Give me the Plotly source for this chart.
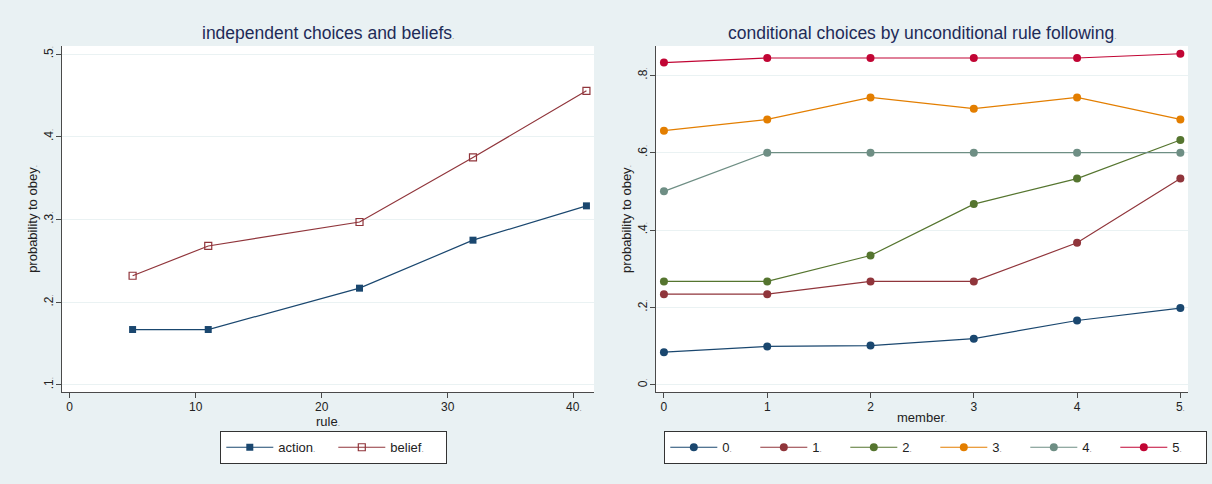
import plotly.graph_objects as go

# ---- data ----
rule = [5, 11, 23, 32, 41]
action = [0.167, 0.167, 0.217, 0.275, 0.3165]
belief = [0.232, 0.268, 0.297, 0.375, 0.4555]

member = [0, 1, 2, 3, 4, 5]
series_names = ["0", "1", "2", "3", "4", "5"]
s0 = [0.084, 0.099, 0.101, 0.119, 0.166, 0.198]
s1 = [0.234, 0.234, 0.267, 0.267, 0.367, 0.533]
s2 = [0.267, 0.267, 0.334, 0.467, 0.533, 0.633]
s3 = [0.657, 0.686, 0.743, 0.714, 0.743, 0.686]
s4 = [0.500, 0.600, 0.600, 0.600, 0.600, 0.600]
s5 = [0.833, 0.845, 0.845, 0.845, 0.845, 0.856]
right_series = [s0, s1, s2, s3, s4, s5]

left_xticks = [0, 10, 20, 30, 40]
left_yticks = [0.1, 0.2, 0.3, 0.4, 0.5]
right_xticks = [0, 1, 2, 3, 4, 5]
right_yticks = [0, 0.2, 0.4, 0.6, 0.8]

# ---- style ----
W, H = 1212, 484
BG = "#e9f1f3"
GRID = "#eaf2f3"
AXC = "#4a4a4a"
TITLEC = "#1e2b58"
TXT = "#222222"
FONT = "Liberation Sans, Arial, sans-serif"
colors = ["#1a476f", "#90353b", "#55752f", "#e37e00", "#6e8e84", "#c10534"]

DOT = "<span style='font-size:8px;color:#777777'>.</span>"


def lbl(s):
    return s + DOT


def fmt(v):
    if v == 0:
        return "0"
    s = ("%g" % v)
    return s[1:] if s.startswith("0") else s


def px_x(p):
    return p / W


def px_y(p):
    return 1 - p / H


fig = go.Figure()

fig.add_trace(go.Scatter(
    x=rule, y=action, name=lbl("action"), mode="lines+markers",
    line=dict(color=colors[0], width=1.2),
    marker=dict(symbol="square", size=7, color=colors[0]),
    xaxis="x", yaxis="y", legend="legend"))
fig.add_trace(go.Scatter(
    x=rule, y=belief, name=lbl("belief"), mode="lines+markers",
    line=dict(color=colors[1], width=1.2),
    marker=dict(symbol="square-open", size=7, color=colors[1], line=dict(width=1.2)),
    xaxis="x", yaxis="y", legend="legend"))

for name, ys, c in zip(series_names, right_series, colors):
    fig.add_trace(go.Scatter(
        x=member, y=ys, name=lbl(name), mode="lines+markers",
        line=dict(color=c, width=1.2),
        marker=dict(symbol="circle", size=8, color=c),
        xaxis="x2", yaxis="y2", legend="legend2"))

axis_common = dict(
    showline=True, linecolor=AXC, linewidth=1.3, ticks="outside", ticklen=5,
    tickcolor=AXC, tickwidth=1, zeroline=False, mirror=False, automargin=False,
    tickfont=dict(family=FONT, size=12, color=TXT),
    title_font=dict(family=FONT, size=13, color=TXT),
    ticklabelstandoff=-2,
)

ytop, ybot = 46, 392
fig.update_layout(
    width=W, height=H,
    margin=dict(l=0, r=0, t=0, b=0, autoexpand=False),
    paper_bgcolor=BG, plot_bgcolor="white",
    font=dict(family=FONT, size=12, color=TXT),
    xaxis=dict(domain=[px_x(62), px_x(594)], range=[-0.6, 41.6], anchor="y",
               tickvals=left_xticks,
               ticktext=[str(t) if t != 40 else lbl("40") for t in left_xticks],
               showgrid=False, title=dict(text=lbl("rule"), standoff=0), **axis_common),
    yaxis=dict(domain=[px_y(ybot), px_y(ytop)], range=[0.0915, 0.5097], anchor="x",
               tickvals=left_yticks, ticktext=[lbl(fmt(t)) for t in left_yticks],
               tickangle=-90, showgrid=True, gridcolor=GRID, gridwidth=1,
               title=dict(text=lbl("probability to obey"), standoff=1), **axis_common),
    xaxis2=dict(domain=[px_x(656), px_x(1188)], range=[-0.077, 5.074], anchor="y2",
                tickvals=right_xticks,
                ticktext=[str(t) if t != 5 else lbl("5") for t in right_xticks],
                showgrid=False, title=dict(text=lbl("member"), standoff=0), **axis_common),
    yaxis2=dict(domain=[px_y(ybot), px_y(ytop)], range=[-0.019, 0.876], anchor="x2",
                tickvals=right_yticks, ticktext=[lbl(fmt(t)) for t in right_yticks],
                tickangle=-90, showgrid=True, gridcolor=GRID, gridwidth=1,
                title=dict(text=lbl("probability to obey"), standoff=1), **axis_common),
    legend=dict(orientation="h", x=px_x(220), y=px_y(431), xanchor="left", yanchor="top",
                bgcolor="white", bordercolor="#333333", borderwidth=1.3,
                font=dict(family=FONT, size=13, color=TXT),
                entrywidth=50, entrywidthmode="pixels", itemwidth=47, tracegroupgap=0),
    legend2=dict(orientation="h", x=px_x(664), y=px_y(431), xanchor="left", yanchor="top",
                 bgcolor="white", bordercolor="#333333", borderwidth=1.3,
                 font=dict(family=FONT, size=13, color=TXT),
                 entrywidth=28, entrywidthmode="pixels", itemwidth=47, tracegroupgap=0),
    annotations=[
        dict(text="independent choices and beliefs" + DOT, x=px_x(328), y=px_y(33),
             xref="paper", yref="paper", showarrow=False, xanchor="center", yanchor="middle",
             font=dict(family=FONT, size=17.5, color=TITLEC)),
        dict(text="conditional choices by unconditional rule following" + DOT,
             x=px_x(922), y=px_y(33), xref="paper", yref="paper", showarrow=False,
             xanchor="center", yanchor="middle",
             font=dict(family=FONT, size=17.5, color=TITLEC)),
    ],
)

fig.write_html(
    "out.html",
    config={"displayModeBar": False},
    post_script="document.body.style.margin='0px';document.body.style.overflow='hidden';",
)
